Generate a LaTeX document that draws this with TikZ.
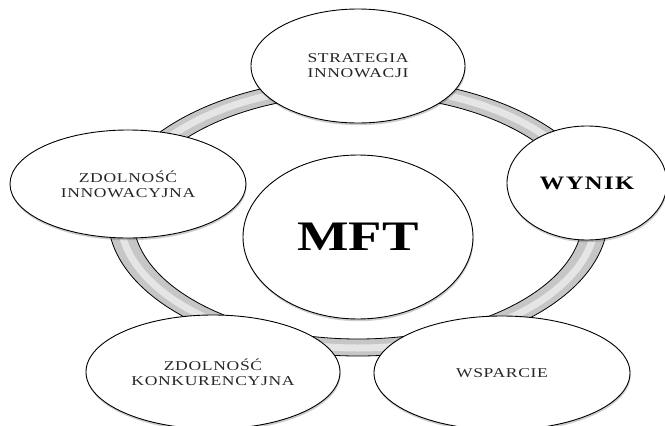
\documentclass[tikz,border=0pt]{standalone}
\usepackage{fontspec}
\setmainfont{Liberation Serif}
\newfontfamily\lblfont[FakeStretch=1.3, LetterSpace=5]{Liberation Serif}
\newfontfamily\bigfont[FakeStretch=1.3]{Liberation Serif}
\usetikzlibrary{shapes.geometric,shadows}
\begin{document}
\begin{tikzpicture}[x=1pt,y=-1pt,
  bubble/.style={ellipse, draw=black, line width=0.9pt, fill=white, inner sep=0pt,
    align=center, text=black!85,
    drop shadow={shadow xshift=0.6pt, shadow yshift=-2.2pt, opacity=0.28, fill=black!70}},
  small/.style={font=\lblfont\fontsize{13.5}{15}\selectfont},
  ringedge/.style={draw=black, line width=0.8pt}
]
\useasboundingbox (0,0) rectangle (665,426);
\fill[white] (0,0) rectangle (665,426);
% ring
\coordinate (rc) at (358,217);
\fill[gray!45, even odd rule] (rc) ellipse [x radius=250pt, y radius=139pt]
  (rc) ellipse [x radius=225pt, y radius=122pt];
\draw[white, opacity=0.55, line width=7pt] (rc) ellipse [x radius=238pt, y radius=131pt];
\draw[ringedge] (rc) ellipse [x radius=250pt, y radius=139pt];
\draw[ringedge] (rc) ellipse [x radius=225pt, y radius=122pt];
% nodes
\node[bubble, small, minimum width=214pt, minimum height=114pt] (strat) at (358,66)
  {STRATEGIA\\INNOWACJI};
\node[bubble, small, minimum width=236pt, minimum height=108pt] (zinn) at (128,184)
  {ZDOLNOŚĆ\\INNOWACYJNA};
\node[bubble, font=\bigfont\bfseries\fontsize{19}{20}\selectfont, text=black,
  minimum width=160pt, minimum height=114pt] (wynik) at (587,183)
  {\addfontfeatures{LetterSpace=7}WYNIK};
\node[bubble, small, minimum width=254pt, minimum height=114pt] (zkon) at (213,372)
  {ZDOLNOŚĆ\\KONKURENCYJNA};
\node[bubble, small, minimum width=256pt, minimum height=114pt] (wsp) at (502,373)
  {WSPARCIE};
\node[bubble, font=\bigfont\bfseries\fontsize{42}{44}\selectfont, text=black,
  minimum width=230pt, minimum height=164pt] (mft) at (358,237) {MFT};
\end{tikzpicture}
\end{document}
